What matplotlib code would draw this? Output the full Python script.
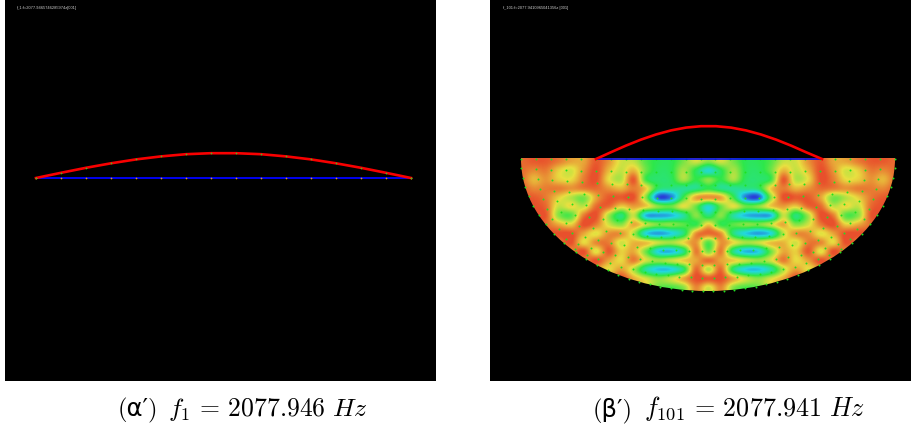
import numpy as np
import matplotlib
matplotlib.use("Agg")
import matplotlib.pyplot as plt
from matplotlib.colors import LinearSegmentedColormap
from matplotlib.patches import Ellipse

plt.rcParams['mathtext.fontset'] = 'cm'

W, H = 912, 428

# left panel: string, heights in px above the rest line
left_x = [36, 61, 86, 111, 136, 161, 186, 211, 236, 261, 286, 311, 336, 361, 386, 411]
left_h = [0, 5.2, 10.2, 14.7, 18.6, 21.6, 23.8, 24.8, 24.8, 23.8, 21.6, 18.6, 14.7, 10.2, 5.2, 0]

# right panel: string over the half disc
right_x = [596, 611, 626, 641, 656, 671, 686, 701, 716, 731, 746, 761, 776, 791, 806, 822]
right_h = [0, 6.8, 13.4, 19.4, 24.5, 28.6, 31.4, 32.8, 32.8, 31.4, 28.6, 24.5, 19.4, 13.4, 6.8, 0]

# field over the left half of the disc, the right half is its mirror (0 blue ... 1 red)
field_x = [521, 533, 546, 558, 571, 583, 596, 608, 621, 633, 646, 658, 671, 683, 696, 708]
field_y = [153, 162, 171, 180, 189, 198, 207, 216, 225, 234, 243, 252, 261, 270, 279, 288, 297]
field_left = [
    [.95, .98, .98, .92, .85, .85, .98, .88, .72, .70, .55, .48, .48, .60, .72, .62],
    [.95, .98, .98, .92, .85, .85, .98, .88, .72, .70, .55, .48, .48, .60, .72, .62],
    [.95, .90, .92, .78, .72, .88, 1.0, .82, .70, .82, .58, .46, .48, .66, .48, .28],
    [.95, .82, .88, .78, .76, .92, 1.0, .76, .68, .98, .52, .44, .46, .66, .50, .62],
    [.98, .90, .92, .92, .88, .92, .95, .88, .82, .92, .78, .44, .40, .38, .40, .50],
    [.98, .98, .92, .78, .68, .60, .85, .98, .98, 1.0, .62, .04, .10, .52, .85, .88],
    [1.0, 1.0, .95, .70, .76, .70, .95, .95, .78, .86, .78, .62, .58, .74, .58, .28],
    [1.0, 1.0, .98, .62, .56, .92, 1.0, .66, .42, .70, .20, .16, .20, .36, .62, .42],
    [1.0, 1.0, .95, .84, .78, 1.0, .92, .72, .62, .84, .70, .60, .62, .56, .50, .78],
    [1.0, 1.0, 1.0, 1.0, 1.0, .85, .74, .88, .88, .68, .26, .16, .24, .42, .88, .95],
    [1.0, 1.0, 1.0, .92, 1.0, .76, .90, .92, .72, .82, .80, .70, .66, .76, .88, .55],
    [1.0, 1.0, 1.0, 1.0, .90, 1.0, .74, .98, .78, .84, .58, .24, .20, .40, .92, .60],
    [1.0, 1.0, 1.0, 1.0, 1.0, .90, 1.0, .86, .76, .92, .72, .64, .70, .78, .85, .95],
    [1.0, 1.0, 1.0, 1.0, 1.0, 1.0, .88, .76, .86, .68, .36, .22, .24, .44, .95, .68],
    [1.0, 1.0, 1.0, 1.0, 1.0, 1.0, 1.0, .90, 1.0, .84, .72, .62, .70, .84, 1.0, .98],
    [1.0, 1.0, 1.0, 1.0, 1.0, 1.0, 1.0, 1.0, .90, .86, .74, .58, .54, .62, .90, .72],
    [1.0, 1.0, 1.0, 1.0, 1.0, 1.0, 1.0, 1.0, .90, .86, .74, .58, .54, .62, .90, .72],
]

# mesh nodes of the disc, on the unit square
node_u = [-1, -.92, -.84, -.76, -.68, -.6, -.52, -.44, -.36, -.28, -.2, -.12, -.04,
          .04, .12, .2, .28, .36, .44, .52, .6, .68, .76, .84, .92, 1]
node_v = [0, .1, .2, .3, .4, .5, .6, .7, .8, .9, 1]

title_left = "f_1:f=2077.9465746285974z[001]"
title_right = "f_101:f=2077.9410965041356z [001]"

cmap = LinearSegmentedColormap.from_list(
    "field", ["#2a3ed8", "#22d8e0", "#2ee84a", "#e8e040", "#e8502c"])

fig = plt.figure(figsize=(W / 100, H / 100), dpi=100, facecolor="white")
ax = fig.add_axes([0, 0, 1, 1])
ax.axis("off")

ax.fill_between([5, 436], 0, 381, color="black", lw=0, zorder=0)
ax.fill_between([490, 912], 0, 381, color="black", lw=0, zorder=0)

# left panel
lx = np.array(left_x)
ax.plot([36, 411], [178, 178], color="#0000ee", lw=1.4, zorder=2)
ax.plot(lx, 178 - np.array(left_h), color="#f80000", lw=1.9, zorder=3)
ax.scatter(lx, np.full(lx.shape, 178), s=1.5, color="#e0a020", lw=0, zorder=4)
ax.scatter(lx, 178 - np.array(left_h), s=1.5, color="#40c020", lw=0, zorder=4)
ax.text(17, 7.5, title_left, color="#cccccc", fontsize=2.9, va="center", family="Liberation Sans")

# right panel
field = np.array(field_left)
field = np.hstack([field, field[:, -2::-1]])
x0 = field_x[0] - 6.25
x1 = 2 * field_x[-1] - field_x[0] + 6.25
im = ax.imshow(field, cmap=cmap, vmin=0, vmax=1, interpolation="catrom", aspect="auto",
               extent=[x0, x1, field_y[-1] + 4.5, field_y[0] - 4.5], zorder=1)
ax.set_xlim(0, W)
ax.set_ylim(H, 0)
disc = Ellipse((708, 159), 374, 264, transform=ax.transData, fc="none", ec="none")
ax.add_patch(disc)
im.set_clip_path(disc)

uu, vv = np.meshgrid(node_u, node_v)
nx = 708 + 187 * uu * np.sqrt(1 - vv ** 2 / 2)
ny = 159 + 132 * vv * np.sqrt(1 - uu ** 2 / 2)
ax.scatter(nx.ravel(), ny.ravel(), s=2, color="#20e020", lw=0, zorder=2)

# the ellipse reaches above the top edge, cover that part again
ax.fill_between([515, 900], 20, 158, color="black", lw=0, zorder=1.5)
ax.plot([596, 822], [158.5, 158.5], color="#0000ee", lw=1.2, zorder=2)
ax.plot(right_x, 159 - np.array(right_h), color="#f80000", lw=1.9, zorder=3)
ax.text(503, 7.5, title_right, color="#cccccc", fontsize=2.9, va="center", family="Liberation Sans")

# captions
ax.text(118, 416, "(α′)", fontsize=17.5, va="baseline", family=["cmr10", "DejaVu Sans"])
ax.text(168, 416, r"$f_1\,=\,2077.946\ Hz$", fontsize=18.5, va="baseline")
ax.text(593, 416, "(β′)", fontsize=17.5, va="baseline", family=["cmr10", "DejaVu Sans"])
ax.text(644, 416, r"$f_{101}\,=\,2077.941\ Hz$", fontsize=18.8, va="baseline")

fig.savefig("out.png", dpi=100, facecolor="white")
